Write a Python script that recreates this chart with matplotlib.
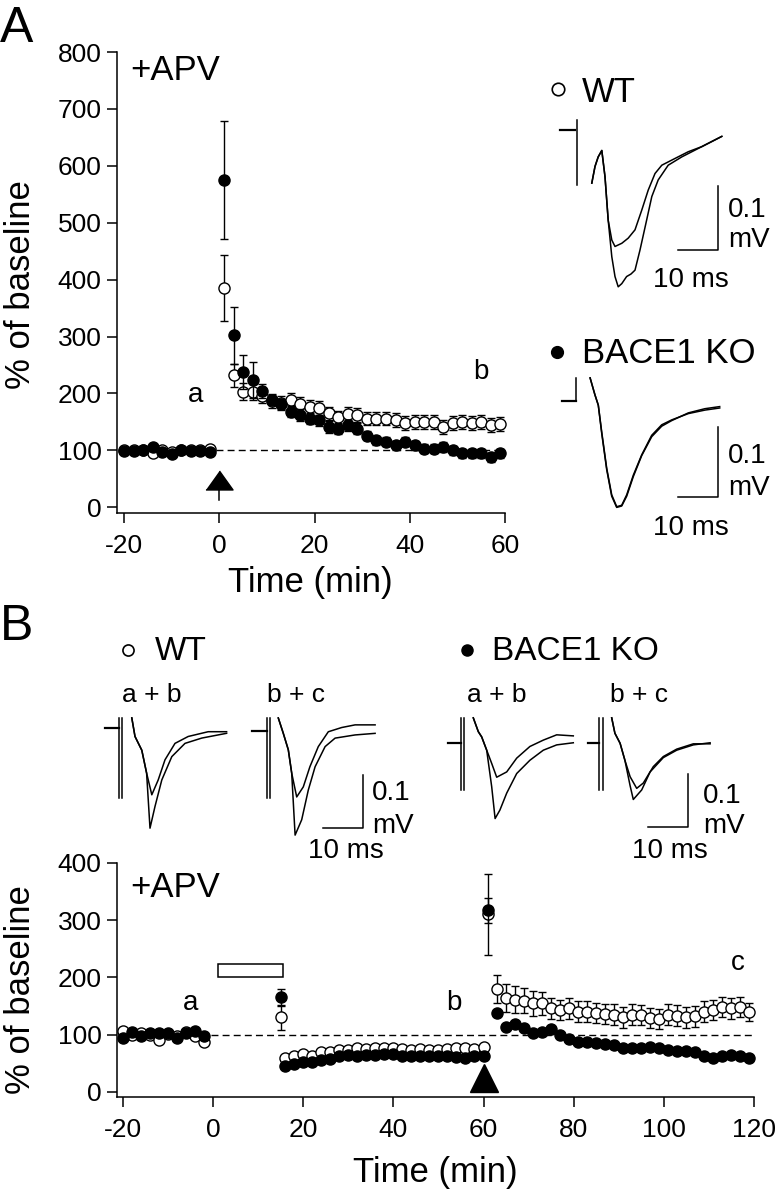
import numpy as np
import matplotlib
matplotlib.use("Agg")
import matplotlib.pyplot as plt
from matplotlib.lines import Line2D
from matplotlib.patches import Rectangle

plt.rcParams['font.family'] = ['Liberation Sans', 'DejaVu Sans']
plt.rcParams['axes.unicode_minus'] = False

W, H = 780, 1200

# ---------------- Panel A data (% of baseline) ----------------
tA_base = [-20, -18, -16, -14, -12, -10, -8, -6, -4, -2]
wtA_base = [100, 100, 100, 96, 100, 98, 100, 100, 100, 103]
koA_base = [99, 99, 101, 106, 97, 93, 101, 99, 99, 97]

tA_post = list(range(1, 60, 2))
wtA_post = [385, 232, 203, 202, 196, 186, 184, 189, 182, 176, 175, 165, 158, 164, 162,
            156, 156, 156, 153, 148, 150, 150, 150, 141, 148, 150, 148, 150, 145, 146]
koA_post = [575, 302, 237, 224, 204, 189, 181, 168, 162, 156, 153, 141, 138, 144, 138,
            126, 118, 115, 109, 115, 109, 103, 103, 106, 100, 95, 95, 95, 88, 95]
wtA_err = [58, 20, 15, 14, 12, 12, 12, 12, 12, 12, 12, 12, 12, 12, 12,
           12, 12, 12, 12, 12, 12, 12, 12, 12, 12, 12, 12, 12, 12, 12]
koA_err = [103, 50, 30, 32, 12, 10, 10, 10, 10, 10, 10, 10, 10, 10, 10,
           8, 8, 8, 8, 8, 8, 8, 8, 8, 8, 8, 8, 8, 8, 8]

# ---------------- Panel B data ----------------
tB_base = [-20, -18, -16, -14, -12, -10, -8, -6, -4, -2]
wtB_base = [106, 100, 103, 100, 91, 101, 98, 104, 97, 88]
koB_base = [94, 104, 97, 103, 103, 103, 94, 103, 106, 97]

tB_lfs = [15]
wtB_lfs, wtB_lfs_err = [130], [22]
koB_lfs, koB_lfs_err = [165], [15]

tB_mid = list(range(16, 61, 2))
wtB_mid = [60, 62, 66, 63, 70, 70, 74, 74, 77, 75, 77, 76, 77, 75, 74, 75, 74, 74, 75, 76, 77, 75, 78]
koB_mid = [46, 48, 52, 52, 56, 58, 62, 64, 63, 65, 65, 67, 67, 63, 62, 63, 62, 62, 63, 61, 60, 63, 63]

tB_hfs = [61]
wtB_hfs, wtB_hfs_err = [310], [70]
koB_hfs, koB_hfs_err = [317], [22]

tB_post = list(range(63, 120, 2))
wtB_post = [180, 164, 161, 159, 155, 155, 146, 143, 146, 140, 140, 138, 136, 135, 130,
            135, 134, 129, 127, 135, 133, 130, 132, 140, 143, 148, 146, 148, 139]
wtB_post_err = [25, 24, 24, 22, 22, 20, 18, 18, 18, 18, 18, 18, 18, 18, 18,
                18, 18, 18, 18, 18, 18, 18, 18, 18, 18, 18, 18, 18, 16]
koB_post = [137, 114, 119, 111, 103, 104, 109, 100, 93, 87, 87, 85, 84, 82, 76,
            77, 77, 78, 76, 74, 72, 72, 70, 63, 59, 62, 65, 63, 60]

lfs_window = (1, 15.5)
lfs_bar = (200, 224)
stim_A, stim_B = 0, 60

# ---------------- Traces (ms, mV) ----------------
# Panel A, WT
wtA_pre_t = [-4.2, -0.5]
wtA_pre_v = [0.0, 0.0]
wtA_art_v = [0.016, -0.086]
wtA_lo_t = [3.7, 4.5, 5.3, 6.2, 7.0, 7.8, 8.7, 9.5, 10.3, 11.2, 12.4, 13.5, 14.5, 15.75,
            17.4, 18.7, 20.3, 22.8, 26.2, 31.2, 36.2]
wtA_lo_v = [-0.083, -0.057, -0.042, -0.032, -0.073, -0.141, -0.198, -0.229, -0.245, -0.240,
            -0.229, -0.225, -0.219, -0.1875, -0.141, -0.104, -0.078, -0.055, -0.042, -0.026, -0.010]
wtA_hi_t = [3.7, 4.5, 5.3, 6.2, 7.0, 7.8, 8.7, 9.5, 11.2, 12.8, 14.5, 16.2, 17.8, 19.5,
            21.2, 23.7, 27.8, 31.2, 36.2]
wtA_hi_v = [-0.083, -0.057, -0.042, -0.032, -0.073, -0.141, -0.172, -0.182, -0.177, -0.169,
            -0.156, -0.125, -0.094, -0.068, -0.055, -0.047, -0.034, -0.026, -0.010]

# Panel A, BACE1 KO
koA_pre_t = [-3.4, 0.0]
koA_pre_v = [0.0, 0.0]
koA_art_v = [0.0, 0.033]
koA_t = [3.6, 4.8, 5.65, 6.5, 7.75, 9.0, 10.25, 11.5, 12.75, 14.4, 16.5, 19, 21.5, 24, 28.15, 32.3, 36]
koA_v1 = [0.033, 0.009, -0.006, -0.044, -0.096, -0.134, -0.151, -0.149, -0.134, -0.106,
          -0.077, -0.049, -0.034, -0.027, -0.018, -0.013, -0.010]
koA_v2 = [0.033, 0.009, -0.006, -0.046, -0.098, -0.136, -0.152, -0.150, -0.136, -0.108,
          -0.078, -0.051, -0.036, -0.028, -0.017, -0.011, -0.008]

# Panel B, WT a+b
wtB1_pre_t = [-3.5, 0.0]
wtB1_pre_v = [0.0, 0.0]
wtB1_art_v = [0.019, -0.132]
wtB1_lo_t = [3.2, 4.0, 5.7, 6.9, 7.75, 9.0, 10.7, 13.2, 16.5, 20.7, 26.9]
wtB1_lo_v = [0.019, -0.016, -0.042, -0.085, -0.189, -0.148, -0.098, -0.054, -0.029, -0.019, -0.010]
wtB1_hi_t = [3.2, 4.0, 5.7, 6.9, 8.2, 9.8, 11.5, 14.0, 17.3, 22.3, 26.9]
wtB1_hi_v = [0.019, -0.016, -0.042, -0.085, -0.126, -0.098, -0.060, -0.029, -0.016, -0.007, -0.007]

# Panel B, WT b+c
wtB2_pre_t = [-3.75, 0.0]
wtB2_pre_v = [0.0, 0.0]
wtB2_art_v = [0.024, -0.127]
wtB2_lo_t = [2.9, 4.15, 5.4, 6.25, 7.1, 8.75, 10.4, 12.1, 14.6, 17.1, 22.1, 27.1]
wtB2_lo_v = [0.024, -0.005, -0.036, -0.080, -0.197, -0.168, -0.112, -0.068, -0.030, -0.014, -0.008, -0.005]
wtB2_hi_t = [2.9, 4.15, 5.4, 6.25, 7.5, 9.15, 10.8, 12.9, 15.4, 18.75, 22.1, 27.1]
wtB2_hi_v = [0.024, -0.005, -0.036, -0.080, -0.125, -0.106, -0.068, -0.030, -0.002, 0.006, 0.011, 0.011]

# Panel B, KO a+b
koB1_pre_t = [-3.1, 0.0]
koB1_pre_v = [0.0, 0.0]
koB1_art_v = [0.048, -0.088]
koB1_lo_t = [3.15, 4.4, 5.25, 6.5, 7.75, 8.6, 9.8, 11.5, 14.0, 17.3, 20.65, 24.0, 28.15]
koB1_lo_v = [0.048, 0.022, 0.012, -0.013, -0.082, -0.142, -0.126, -0.094, -0.057, -0.032, -0.013, -0.003, 0.001]
koB1_hi_t = [3.15, 4.4, 5.25, 6.5, 7.75, 9.0, 11.5, 14.0, 17.3, 20.65, 24.0, 28.15]
koB1_hi_v = [0.048, 0.022, 0.012, -0.013, -0.038, -0.064, -0.054, -0.028, -0.006, 0.006, 0.016, 0.014]

# Panel B, KO b+c
koB2_pre_t = [-2.75, 0.0]
koB2_pre_v = [0.0, 0.0]
koB2_art_v = [0.048, -0.088]
koB2_lo_t = [3.1, 3.9, 5.2, 6.4, 7.7, 8.5, 10.6, 12.7, 16.0, 19.35, 23.5, 27.7]
koB2_lo_v = [0.048, 0.019, 0.0, -0.032, -0.080, -0.106, -0.088, -0.054, -0.027, -0.013, -0.003, 0.001]
koB2_hi_t = [3.1, 3.9, 5.2, 6.4, 7.7, 9.35, 11.0, 13.5, 16.0, 19.35, 23.5, 27.7]
koB2_hi_v = [0.048, 0.019, 0.0, -0.032, -0.063, -0.085, -0.075, -0.044, -0.025, -0.011, -0.001, -0.001]


fig = plt.figure(figsize=(7.8, 12), dpi=100)


def fx(px):
    return px / W


def fy(py):
    return 1 - py / H


def ptext(x, y, s, size, **kw):
    fig.text(fx(x), fy(y), s, fontsize=size, **kw)


def main_axes(left, right, top, bottom):
    ax = fig.add_axes([fx(left), fy(bottom), (right - left) / W, (bottom - top) / H])
    for side in ['top', 'right']:
        ax.spines[side].set_visible(False)
    for side in ['left', 'bottom']:
        ax.spines[side].set_linewidth(1.1)
    ax.tick_params(direction='out', length=7, width=1.1, labelsize=19)
    ax.tick_params(axis='y', pad=4)
    ax.tick_params(axis='x', pad=8)
    return ax


def trace_axes(x0, y0, px_ms, px_mv, tlim=(-6, 40), vlim=(-0.3, 0.08)):
    left = x0 + tlim[0] * px_ms
    right = x0 + tlim[1] * px_ms
    top = y0 - vlim[1] * px_mv
    bottom = y0 - vlim[0] * px_mv
    ax = fig.add_axes([fx(left), fy(bottom), (right - left) / W, (bottom - top) / H])
    ax.set_xlim(tlim)
    ax.set_ylim(vlim)
    ax.axis('off')
    return ax


def scalebar(ax, t, v):
    ax.plot([t - 10, t, t], [v, v, v + 0.1], color='black', lw=1.1, clip_on=False)


def series(ax, t, y, err, filled):
    ax.errorbar(t, y, yerr=err, fmt='o', ms=8, mew=1.0,
                mfc='black' if filled else 'white', mec='black', ecolor='black',
                elinewidth=1.0, capsize=3, capthick=1.0, zorder=4 if filled else 3,
                clip_on=False)


tri_flat = [(-1, -0.7), (1, -0.7), (0, 0.7)]
dash = (0, (5, 3))

# ================= Panel A main plot =================
axA = main_axes(117, 505, 52, 513)
axA.set_xlim(-21.5, 60)
axA.set_ylim(-10, 800)
axA.set_xticks([-20, 0, 20, 40, 60])
axA.set_yticks(range(0, 801, 100))
axA.plot([-0.8, 60], [100, 100], ls=dash, color='black', lw=1.0, zorder=1)
series(axA, tA_base, wtA_base, [3] * len(tA_base), False)
series(axA, tA_post, wtA_post, wtA_err, False)
series(axA, tA_base, koA_base, [3] * len(tA_base), True)
series(axA, tA_post, koA_post, koA_err, True)
axA.plot([stim_A, stim_A], [12, 35], color='black', lw=1.1)
axA.plot([stim_A], [48], marker=tri_flat, ms=19.5, color='black', clip_on=False)
axA.text(-5, 185, 'a', fontsize=20, ha='center', va='baseline')
axA.text(55, 225, 'b', fontsize=20, ha='center', va='baseline')

ptext(0, 42, 'A', 36)
ptext(130, 80, '+APV', 25)
ptext(310, 592, 'Time (min)', 25, ha='center', va='baseline')
ptext(21, 285, '% of baseline', 25, rotation=90, ha='center', va='center')

# Panel A traces
trA_wt = trace_axes(577, 130, 4, 640)
trA_wt.plot(wtA_pre_t, wtA_pre_v, color='black', lw=1.6)
trA_wt.plot([0, 0], wtA_art_v, color='black', lw=1.1)
trA_wt.plot(wtA_lo_t, wtA_lo_v, color='black', lw=1.1)
trA_wt.plot(wtA_hi_t, wtA_hi_v, color='black', lw=1.1)
scalebar(trA_wt, 35.25, -0.1875)

trA_ko = trace_axes(575.7, 401, 4, 700)
trA_ko.plot(koA_pre_t, koA_pre_v, color='black', lw=1.6)
trA_ko.plot([0, 0], koA_art_v, color='black', lw=1.1)
trA_ko.plot(koA_t, koA_v1, color='black', lw=1.1)
trA_ko.plot(koA_t, koA_v2, color='black', lw=1.1)
scalebar(trA_ko, 35.6, -0.137)

fig.add_artist(Line2D([fx(558)], [fy(89)], marker='o', ms=9, mfc='white', mec='black',
                      mew=1.2, transform=fig.transFigure))
ptext(582, 102, 'WT', 25)
fig.add_artist(Line2D([fx(557)], [fy(352)], marker='o', ms=8.5, mfc='black', mec='black',
                      transform=fig.transFigure))
ptext(582, 363, 'BACE1 KO', 25)
ptext(728, 217, '0.1', 20)
ptext(728, 247, 'mV', 20)
ptext(653, 287, '10 ms', 20)
ptext(728, 463, '0.1', 20)
ptext(728, 495, 'mV', 20)
ptext(653, 535, '10 ms', 20)

# ================= Panel B main plot =================
axB = main_axes(117, 754, 863, 1097)
axB.set_xlim(-21.3, 120)
axB.set_ylim(-9, 400)
axB.set_xticks(range(-20, 121, 20))
axB.set_yticks(range(0, 401, 100))
axB.plot([-0.5, 119.5], [100, 100], ls=dash, color='black', lw=1.0, zorder=1)
axB.add_patch(Rectangle((lfs_window[0], lfs_bar[0]), lfs_window[1] - lfs_window[0],
                        lfs_bar[1] - lfs_bar[0], facecolor='white', edgecolor='black', lw=1.1))
series(axB, tB_base, wtB_base, [3] * len(tB_base), False)
series(axB, tB_lfs, wtB_lfs, wtB_lfs_err, False)
series(axB, tB_mid, wtB_mid, [3] * len(tB_mid), False)
series(axB, tB_hfs, wtB_hfs, wtB_hfs_err, False)
series(axB, tB_post, wtB_post, wtB_post_err, False)
series(axB, tB_base, koB_base, [3] * len(tB_base), True)
series(axB, tB_lfs, koB_lfs, koB_lfs_err, True)
series(axB, tB_mid, koB_mid, [3] * len(tB_mid), True)
series(axB, tB_hfs, koB_hfs, koB_hfs_err, True)
series(axB, tB_post, koB_post, [3] * len(tB_post), True)
axB.plot([stim_B], [24], marker='^', ms=20, color='black', clip_on=False, zorder=5)
axB.text(-5, 143, 'a', fontsize=20, ha='center', va='baseline')
axB.text(53.5, 143, 'b', fontsize=20, ha='center', va='baseline')
axB.text(116.5, 213, 'c', fontsize=20, ha='center', va='baseline')

ptext(0, 640, 'B', 36)
ptext(130, 897, '+APV', 25)
ptext(435, 1182, 'Time (min)', 25, ha='center', va='baseline')
ptext(21, 990, '% of baseline', 25, rotation=90, ha='center', va='center')

# Panel B traces
for (x0, y0), pre_t, pre_v, art_v, lo_t, lo_v, hi_t, hi_v in [
        ((119, 728), wtB1_pre_t, wtB1_pre_v, wtB1_art_v, wtB1_lo_t, wtB1_lo_v, wtB1_hi_t, wtB1_hi_v),
        ((266.7, 730.7), wtB2_pre_t, wtB2_pre_v, wtB2_art_v, wtB2_lo_t, wtB2_lo_v, wtB2_hi_t, wtB2_hi_v),
        ((460.7, 743.3), koB1_pre_t, koB1_pre_v, koB1_art_v, koB1_lo_t, koB1_lo_v, koB1_hi_t, koB1_hi_v),
        ((599.3, 743.3), koB2_pre_t, koB2_pre_v, koB2_art_v, koB2_lo_t, koB2_lo_v, koB2_hi_t, koB2_hi_v)]:
    tax = trace_axes(x0, y0, 4, 530, tlim=(-5, 30), vlim=(-0.25, 0.06))
    tax.plot(pre_t, pre_v, color='black', lw=1.6)
    tax.plot([0, 0], art_v, color='black', lw=1.1)
    tax.plot([0.8, 0.8], art_v, color='black', lw=1.1)
    tax.plot(lo_t, lo_v, color='black', lw=1.1)
    tax.plot(hi_t, hi_v, color='black', lw=1.1)
    if x0 == 266.7:
        scalebar(tax, 24.1, -0.184)
    if x0 == 599.3:
        scalebar(tax, 22.25, -0.157)

fig.add_artist(Line2D([fx(128)], [fy(650)], marker='o', ms=8, mfc='white', mec='black',
                      mew=1.2, transform=fig.transFigure))
ptext(155, 660, 'WT', 24)
fig.add_artist(Line2D([fx(467)], [fy(650)], marker='o', ms=8, mfc='black', mec='black',
                      transform=fig.transFigure))
ptext(492, 660, 'BACE1 KO', 24)
ptext(122, 702, 'a + b', 19)
ptext(267, 702, 'b + c', 19)
ptext(467, 702, 'a + b', 19)
ptext(610, 702, 'b + c', 19)
ptext(372, 800, '0.1', 20)
ptext(372, 833, 'mV', 20)
ptext(308, 858, '10 ms', 20)
ptext(703, 803, '0.1', 20)
ptext(703, 833, 'mV', 20)
ptext(632, 858, '10 ms', 20)

fig.savefig('out.png', dpi=100)
